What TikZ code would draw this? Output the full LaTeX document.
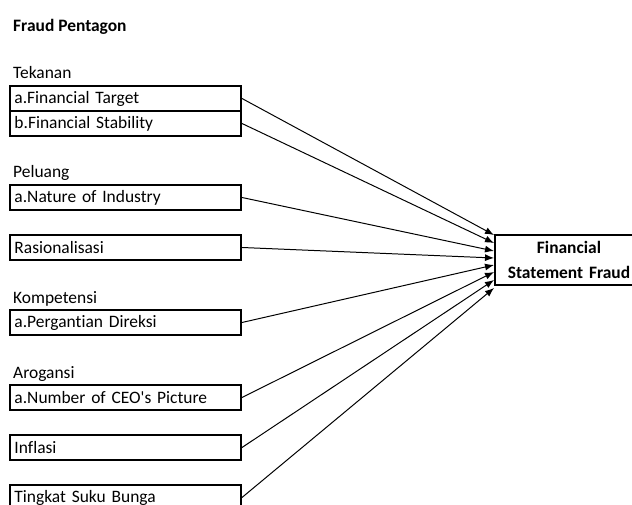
\documentclass[tikz,border=0pt]{standalone}
\usepackage{fontspec}
\setmainfont{Carlito}[Ligatures={TeXOff,NoCommon}]
\usetikzlibrary{arrows.meta,calc}
\tikzset{
	varbox/.style={draw, line width=0.7mm, anchor=north west, minimum width=231bp, minimum height=25bp, inner xsep=4.5bp, inner ysep=1bp, text width=222bp, align=left, font=\fontsize{17.5}{20}\selectfont},
	grouplabel/.style={anchor=base west, inner sep=0pt, font=\fontsize{17.5}{20}\selectfont},
	arr/.style={line width=0.35mm, -{Latex[length=9bp,width=7bp]}}
}

\begin{document}
\begin{tikzpicture}[x=1bp, y=-1bp]
		%%%%% START %%%%%
		\useasboundingbox (0, 0) rectangle (632, 505);
		
		\node[grouplabel, font=\fontsize{17.5}{20}\selectfont\bfseries] (title) at (13, 32) {Fraud Pentagon};
		
		% Tekanan
		\node[grouplabel] (tekanan) at (13, 79) {Tekanan};
		\node[varbox] (ft) at (9, 85) {a.Financial Target};
		\node[varbox] (fs) at (9, 110) {b.Financial Stability};
		
		% Peluang
		\node[grouplabel] (peluang) at (13, 178) {Peluang};
		\node[varbox] (ni) at (9, 184) {a.Nature of Industry};
		
		\node[varbox] (ras) at (9, 234) {Rasionalisasi};
		
		% Kompetensi
		\node[grouplabel] (kompetensi) at (13, 303) {Kompetensi};
		\node[varbox] (pd) at (9, 309) {a.Pergantian Direksi};
		
		% Arogansi
		\node[grouplabel] (arogansi) at (13, 378) {Arogansi};
		\node[varbox] (ceo) at (9, 384) {a.Number of CEO's Picture};
		
		\node[varbox] (inf) at (9, 434) {Inflasi};
		\node[varbox] (sb) at (9, 484) {Tingkat Suku Bunga};
		
		% Financial Statement Fraud
		\node[draw, line width=0.7mm, anchor=north west, minimum width=148bp, minimum height=50bp, inner xsep=3bp, inner ysep=1bp, text width=142bp, align=center, font=\fontsize{17.5}{25}\selectfont\bfseries] (fsf) at (494, 234) {Financial\\Statement Fraud};
		
		\foreach \src/\ty in {ft/235, fs/243, ni/251, ras/258, pd/265, ceo/272, inf/280, sb/288}
			\draw[arr] (\src.east) -- (fsf.west |- 0, \ty);
		
		%%%%% END %%%%%
	\end{tikzpicture}
\end{document}
